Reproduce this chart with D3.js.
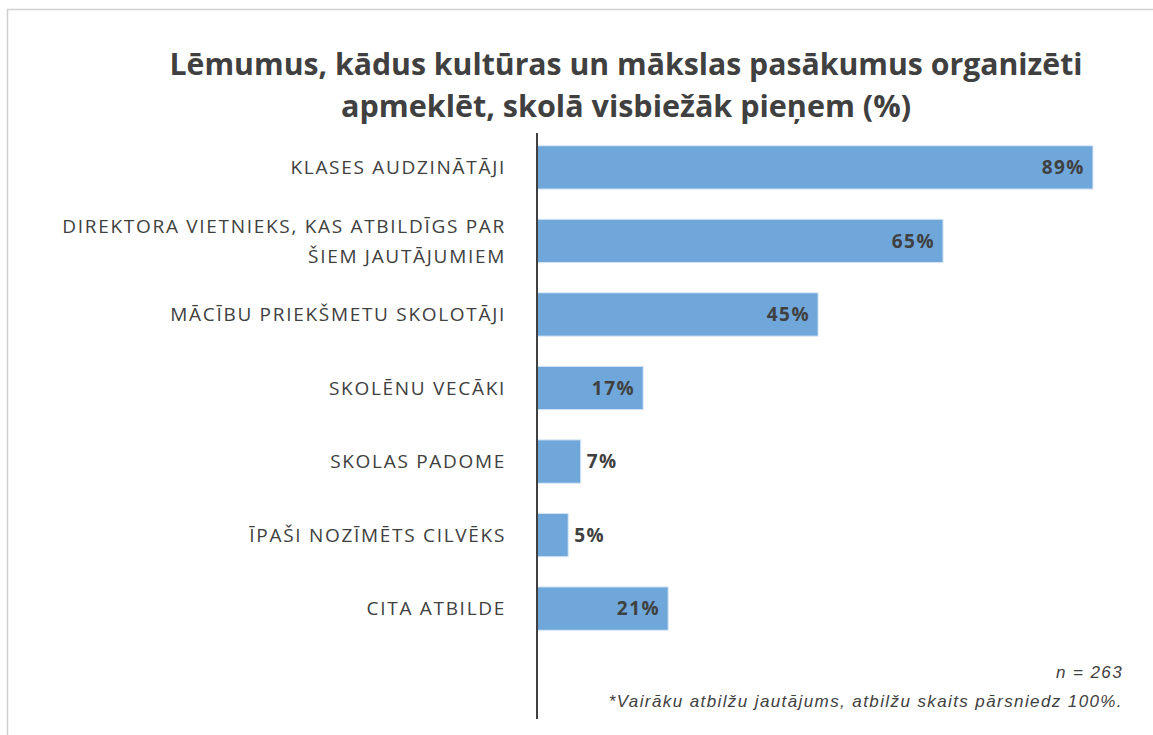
<!DOCTYPE html>
<html>
<script src="https://d3js.org/d3.v7.min.js"></script>

<head>
    <style>
        body {
            margin: 0;
            background-color: #ffffff;
            font-family: "Open Sans", Arial, sans-serif;
        }

        svg {
            display: block;
        }
    </style>
</head>

<body>
</body>
<script>
    const width = 1153,
        height = 735;

    // data
    const categories = [
        ["KLASES AUDZINĀTĀJI"],
        ["DIREKTORA VIETNIEKS, KAS ATBILDĪGS PAR", "ŠIEM JAUTĀJUMIEM"],
        ["MĀCĪBU PRIEKŠMETU SKOLOTĀJI"],
        ["SKOLĒNU VECĀKI"],
        ["SKOLAS PADOME"],
        ["ĪPAŠI NOZĪMĒTS CILVĒKS"],
        ["CITA ATBILDE"]
    ];
    const values = [89, 65, 45, 17, 7, 5, 21];
    const titleLines = [
        "Lēmumus, kādus kultūras un mākslas pasākumus organizēti",
        "apmeklēt, skolā visbiežāk pieņem (%)"
    ];
    const notes = ["n = 263", "*Vairāku atbilžu jautājums, atbilžu skaits pārsniedz 100%."];

    const svg = d3.select("body").append("svg").attr("width", width).attr("height", height);

    // chart frame
    svg.append("rect")
        .attr("x", 7.5)
        .attr("y", 9.5)
        .attr("width", 1160)
        .attr("height", 740)
        .attr("fill", "none")
        .attr("stroke", "#d0d0d0")
        .attr("stroke-width", 1.5);

    const x = d3.scaleLinear().domain([0, 89]).range([537, 1093]);
    const y = d3.scaleBand().domain(d3.range(values.length)).range([131, 645]).paddingInner(0.41).paddingOuter(0.2);

    // title
    titleLines.forEach((line, i) => {
        svg.append("text")
            .attr("x", 626)
            .attr("y", 75 + i * 42)
            .attr("text-anchor", "middle")
            .attr("font-size", "30px")
            .attr("font-weight", "bold")
            .attr("fill", "#404040")
            .attr("textLength", i == 0 ? 913 : 570)
            .attr("lengthAdjust", "spacingAndGlyphs")
            .text(line);
    });

    // bars
    svg.selectAll(".bar")
        .data(values)
        .join("rect")
        .attr("class", "bar")
        .attr("x", x(0))
        .attr("y", (d, i) => y(i))
        .attr("width", d => x(d) - x(0))
        .attr("height", y.bandwidth())
        .attr("fill", "#70a7da")
        .attr("stroke", "#dbe8f5")
        .attr("stroke-width", 1);

    // value labels
    svg.selectAll(".val")
        .data(values)
        .join("text")
        .attr("class", "val")
        .attr("x", d => d < 10 ? x(d) + 6 : x(d) - 8)
        .attr("y", (d, i) => y(i) + y.bandwidth() / 2)
        .attr("dy", "0.35em")
        .attr("text-anchor", d => d < 10 ? "start" : "end")
        .attr("font-size", "19px")
        .attr("letter-spacing", "1.5px")
        .attr("font-weight", "bold")
        .attr("fill", "#404040")
        .text(d => d + "%");

    // category labels
    categories.forEach((lines, i) => {
        const cy = y(i) + y.bandwidth() / 2;
        lines.forEach((line, j) => {
            svg.append("text")
                .attr("x", 506)
                .attr("y", cy + (j - (lines.length - 1) / 2) * 30)
                .attr("dy", "0.35em")
                .attr("text-anchor", "end")
                .attr("font-size", "19px")
                .attr("letter-spacing", "1.7px")
                .attr("fill", "#404040")
                .text(line);
        });
    });

    // vertical axis line
    svg.append("line")
        .attr("x1", x(0))
        .attr("x2", x(0))
        .attr("y1", 133)
        .attr("y2", 719)
        .attr("stroke", "#404040")
        .attr("stroke-width", 2);

    // footnotes
    notes.forEach((line, i) => {
        svg.append("text")
            .attr("x", 1123)
            .attr("y", 678 + i * 29)
            .attr("text-anchor", "end")
            .attr("font-family", "Arial, 'Liberation Sans', sans-serif")
            .attr("font-style", "italic")
            .attr("font-size", "17px")
            .attr("letter-spacing", "1.4px")
            .attr("fill", "#404040")
            .text(line);
    });
</script>

</html>
